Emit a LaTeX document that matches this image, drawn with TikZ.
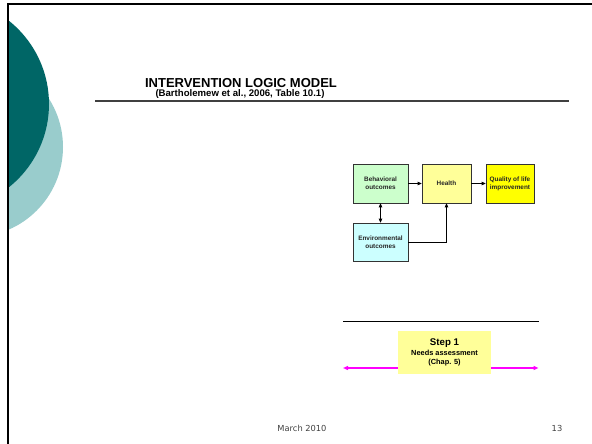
\documentclass[tikz,border=0pt]{standalone}
\usepackage{fontspec}
\setmainfont{Liberation Sans}
\newfontfamily\footfont{DejaVu Sans}
\usetikzlibrary{arrows.meta}
\definecolor{tealdark}{HTML}{006666}
\definecolor{teallight}{HTML}{99CCCC}
\definecolor{boxgreen}{HTML}{CCFFCC}
\definecolor{boxyellow}{HTML}{FFFF99}
\definecolor{boxgold}{HTML}{FFFF00}
\definecolor{boxcyan}{HTML}{CCFFFF}
\definecolor{edgegray}{HTML}{333333}
\definecolor{barpink}{HTML}{FF00FF}
\tikzset{
  outcome/.style={draw=edgegray, line width=0.6pt, minimum width=55pt, minimum height=39pt,
    inner sep=1pt, align=center, font=\bfseries\fontsize{6.4}{8}\selectfont, text=black!85},
  link/.style={line width=0.7pt, -{Triangle[length=4pt,width=3.5pt]}},
  footer/.style={font=\footfont\fontsize{8.3}{10}\selectfont, text=black!75}
}
\begin{document}
\begin{tikzpicture}[x=1pt,y=-1pt]
\useasboundingbox (0,0) rectangle (592,444);
% side decoration: two overlapping discs clipped at the frame
\begin{scope}
  \clip (8,0) rectangle (300,444);
  \fill[teallight] (-27,147) circle (90);
  \fill[tealdark] (-57.5,104) circle (106.5);
\end{scope}
% slide frame
\draw[line width=2.2pt] (592,4.2) -- (7.9,4.2) -- (7.9,444);
% title block
\node[font=\bfseries\fontsize{13}{15}\selectfont] (title) at (241,83) {INTERVENTION LOGIC MODEL};
\node[font=\bfseries\fontsize{9.6}{11}\selectfont] (sub) at (240,94.5) {(Bartholemew et al., 2006, Table 10.1)};
\draw[line width=1pt, black!75] (95,101) -- (569,101);
% logic model
\node[outcome, fill=boxgreen] (beh) at (380.5,183.5) {Behavioral\\outcomes};
\node[outcome, fill=boxyellow, minimum width=49pt] (hea) at (446.5,183.5) {Health};
\node[outcome, fill=boxgold, minimum width=48pt] (qol) at (510,183.5) {Quality of life\\improvement};
\node[outcome, fill=boxcyan, minimum height=38pt] (env) at (380.5,242) {Environmental\\outcomes};
\draw[link] (beh) -- (hea);
\draw[link] (hea) -- (qol);
\draw[link, {Triangle[length=4pt,width=3.5pt]}-{Triangle[length=4pt,width=3.5pt]}] (beh) -- (env);
\draw[link] (env.east) -| (hea.south);
% step bar
\draw[line width=0.9pt] (343,321) coordinate (ruleL) -- (539,321) coordinate (ruleR);
\coordinate (arrL) at (343,368);
\coordinate (arrR) at (538.5,368);
\draw[barpink, line width=1.3pt, {Triangle[length=5pt,width=4pt]}-{Triangle[length=5pt,width=4pt]}] (arrL) -- (arrR);
\node[fill=boxyellow, minimum width=93pt, minimum height=43pt, inner sep=0pt] (step) at (444.5,352.5) {};
\node[font=\bfseries\fontsize{9.7}{11}\selectfont] (steptitle) at (444.5,343) {Step 1};
\node[font=\bfseries\fontsize{7.4}{9}\selectfont, align=center] (steptext) at (444.5,358.5) {Needs assessment\\(Chap. 5)};
% footer
\node[footer] (date) at (302,428) {March 2010};
\node[footer] (page) at (557,428) {13};
\end{tikzpicture}
\end{document}
